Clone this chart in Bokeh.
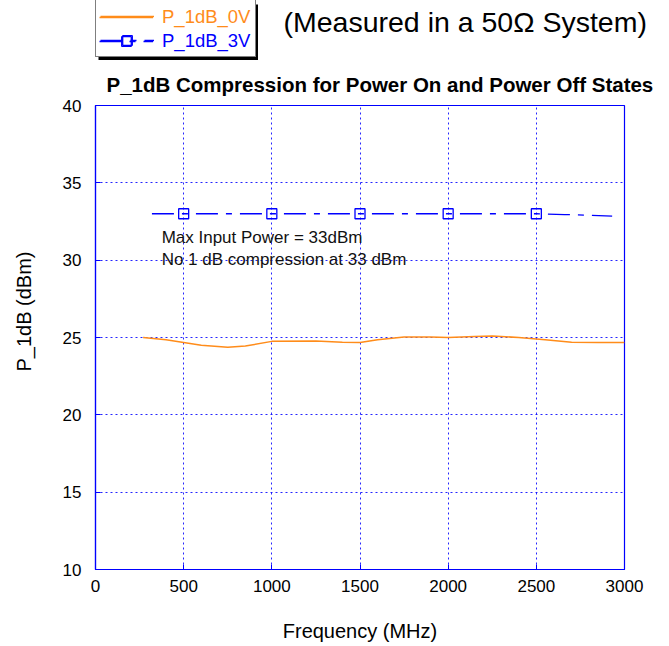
from math import pi
from bokeh.plotting import figure
from bokeh.layouts import column, row
from bokeh.models import Label, Legend, LegendItem, Range1d, BoxAnnotation
from bokeh.embed import file_html
from bokeh.resources import INLINE

FONT = "Liberation Sans"
ORANGE = "#ff8c1a"
BLUE = "#0000ff"

# ---- data ----
freq_0v = [270, 400, 500, 600, 750, 850, 1000, 1250, 1400, 1500, 1600, 1750,
           1900, 2000, 2150, 2250, 2400, 2550, 2700, 2850, 3000]
p1db_0v = [25.0, 24.85, 24.68, 24.5, 24.37, 24.45, 24.75, 24.77, 24.7, 24.67,
           24.85, 25.04, 25.03, 25.0, 25.06, 25.1, 25.0, 24.85, 24.7, 24.67, 24.67]

freq_3v = [320, 500, 1000, 1500, 2000, 2500, 2660, 2930]
p1db_3v = [33.0, 33.0, 33.0, 33.0, 33.0, 33.0, 32.95, 32.85]

marker_freq = [500, 1000, 1500, 2000, 2500]
marker_p1db = [33.0, 33.0, 33.0, 33.0, 33.0]

x_ticks = [0, 500, 1000, 1500, 2000, 2500, 3000]
y_ticks = [10, 15, 20, 25, 30, 35, 40]

title_text = "P_1dB Compression for Power On and Power Off States"
subtitle_text = "(Measured in a 50\u03a9 System)"
note_lines = ["Max Input Power = 33dBm", "No 1 dB compression at 33 dBm"]
note_x = 375
note_y = [31.45, 30.05]

LEFT_W = 50
HEADER_H = 60
TOTAL_W = 660
FRAME_TOP = 105     # page y of plot frame top
FRAME_BOTTOM = 570  # page y of plot frame bottom
BOTTOM_B = 74
MAIN_H = FRAME_BOTTOM + BOTTOM_B - HEADER_H


def blank(fig):
    fig.outline_line_color = None
    fig.grid.visible = False
    fig.min_border = 0
    return fig


# ---------------- main plot ----------------
p = figure(width=TOTAL_W - LEFT_W, height=MAIN_H, output_backend="svg", toolbar_location=None,
           x_range=Range1d(0, 3000), y_range=Range1d(10, 40),
           min_border_left=45, min_border_right=36, min_border_top=FRAME_TOP - HEADER_H,
           min_border_bottom=BOTTOM_B, title=title_text)
p.title.text_font = FONT
p.title.text_font_size = "20.5px"
p.title.text_font_style = "bold"
p.title.text_color = "black"
p.title.align = "left"
p.title.offset = 11
p.title.standoff = 20
p.outline_line_color = BLUE
p.outline_line_width = 1.2

for ax in (p.xaxis[0], p.yaxis[0]):
    ax.axis_line_color = BLUE
    ax.axis_line_width = 1.2
    ax.major_tick_line_color = BLUE
    ax.major_tick_in = 5
    ax.major_tick_out = 0
    ax.minor_tick_line_color = None
    ax.major_label_text_font = FONT
    ax.major_label_text_font_size = "17px"
    ax.major_label_text_color = "black"
p.xaxis[0].ticker = x_ticks
p.yaxis[0].ticker = y_ticks
p.xaxis[0].major_label_standoff = 10
p.yaxis[0].major_label_standoff = 14
p.xaxis[0].axis_label = "Frequency (MHz)"
p.xaxis[0].axis_label_text_font = FONT
p.xaxis[0].axis_label_text_font_size = "20px"
p.xaxis[0].axis_label_text_font_style = "normal"
p.xaxis[0].axis_label_text_color = "black"
p.xaxis[0].axis_label_standoff = 25

p.xgrid.grid_line_color = BLUE
p.ygrid.grid_line_color = BLUE
p.xgrid.grid_line_dash = "2 3"
p.ygrid.grid_line_dash = "2 3"
p.xgrid.grid_line_alpha = 0.85
p.ygrid.grid_line_alpha = 0.85

p.line(freq_0v, p1db_0v, line_color=ORANGE, line_width=1.5)
p.line(freq_3v, p1db_3v, line_color=BLUE, line_width=1.3, line_dash="22 8 6 8")
p.scatter(marker_freq, marker_p1db, marker="square", size=10,
          fill_color=None, line_color=BLUE, line_width=1.3)

for txt, yy in zip(note_lines, note_y):
    p.add_layout(Label(x=note_x, y=yy, text=txt, text_font=FONT, text_font_size="17px",
                       text_color="#111111", text_baseline="middle"))

# ---------------- left strip with y-axis title ----------------
# (its frame is aligned with the main plot's frame by the row layout)
left = blank(figure(width=LEFT_W, height=MAIN_H, output_backend="svg", toolbar_location=None,
                    x_range=Range1d(0, 1), y_range=Range1d(0, 1),
                    x_axis_location=None, y_axis_location=None))
left.add_layout(Label(x=23, y=FRAME_BOTTOM - 312, x_units="screen", y_units="screen",
                      text="P_1dB (dBm)", angle=pi / 2, text_font=FONT,
                      text_font_size="20px", text_align="center",
                      text_baseline="middle", text_color="black"))

# ---------------- header with legend and subtitle ----------------
hdr = blank(figure(width=TOTAL_W, height=HEADER_H, output_backend="svg",
                   toolbar_location=None, x_range=Range1d(0, 1), y_range=Range1d(0, 1),
                   x_axis_location=None, y_axis_location=None))
# legend sample glyphs: same series, styles only (their data lie outside this strip's ranges)
g0 = hdr.line(freq_0v, p1db_0v, line_color=ORANGE, line_width=1.5)
g3 = hdr.line(freq_3v, p1db_3v, line_color=BLUE, line_width=1.3, line_dash="22 8 6 8")
g3m = hdr.scatter(marker_freq, marker_p1db, marker="square", size=10, fill_color=None,
                  line_color=BLUE, line_width=1.3)

H = 24
SP = 0
PAD = 4
GLYPH_W = 54
STANDOFF = 9
box_h = 2 * PAD + 2 * H + SP
box_top = HEADER_H - 1
box_vy = box_top - box_h
box_x = 95
box_right = 254.5

# drop shadow of the legend box
hdr.add_layout(BoxAnnotation(left=box_x + 3, right=box_right + 3, bottom=box_vy - 3,
                             top=box_top - 3, left_units="screen", right_units="screen",
                             bottom_units="screen", top_units="screen",
                             fill_color="black", fill_alpha=1, line_alpha=0))


def make_legend(items, loc, **kw):
    lg = Legend(items=items, location=loc, orientation="vertical", padding=PAD,
                spacing=SP, margin=0, glyph_width=GLYPH_W, glyph_height=H, label_height=H,
                label_standoff=STANDOFF, label_text_font=FONT,
                label_text_font_size="18.5px", **kw)
    hdr.add_layout(lg, "center")
    return lg


make_legend([LegendItem(label="P_1dB_0V", renderers=[g0]),
             LegendItem(label="P_1dB_3V", renderers=[g3, g3m])], (box_x, box_vy),
            background_fill_color="white", background_fill_alpha=1,
            border_line_color="black", border_line_width=1, label_text_alpha=0)
make_legend([LegendItem(label="P_1dB_0V", renderers=[g0])], (box_x, box_vy + H + SP),
            background_fill_alpha=0, border_line_alpha=0, label_text_color=ORANGE)
make_legend([LegendItem(label="P_1dB_3V", renderers=[g3, g3m])], (box_x, box_vy),
            background_fill_alpha=0, border_line_alpha=0, label_text_color=BLUE)

hdr.add_layout(Label(x=283, y=HEADER_H - 21, x_units="screen", y_units="screen",
                     text=subtitle_text, text_font=FONT, text_font_size="28.5px",
                     text_align="left", text_baseline="middle", text_color="black"))

layout = column(hdr, row(left, p, spacing=0), spacing=0)
open("out.html", "w").write(file_html(layout, INLINE))
